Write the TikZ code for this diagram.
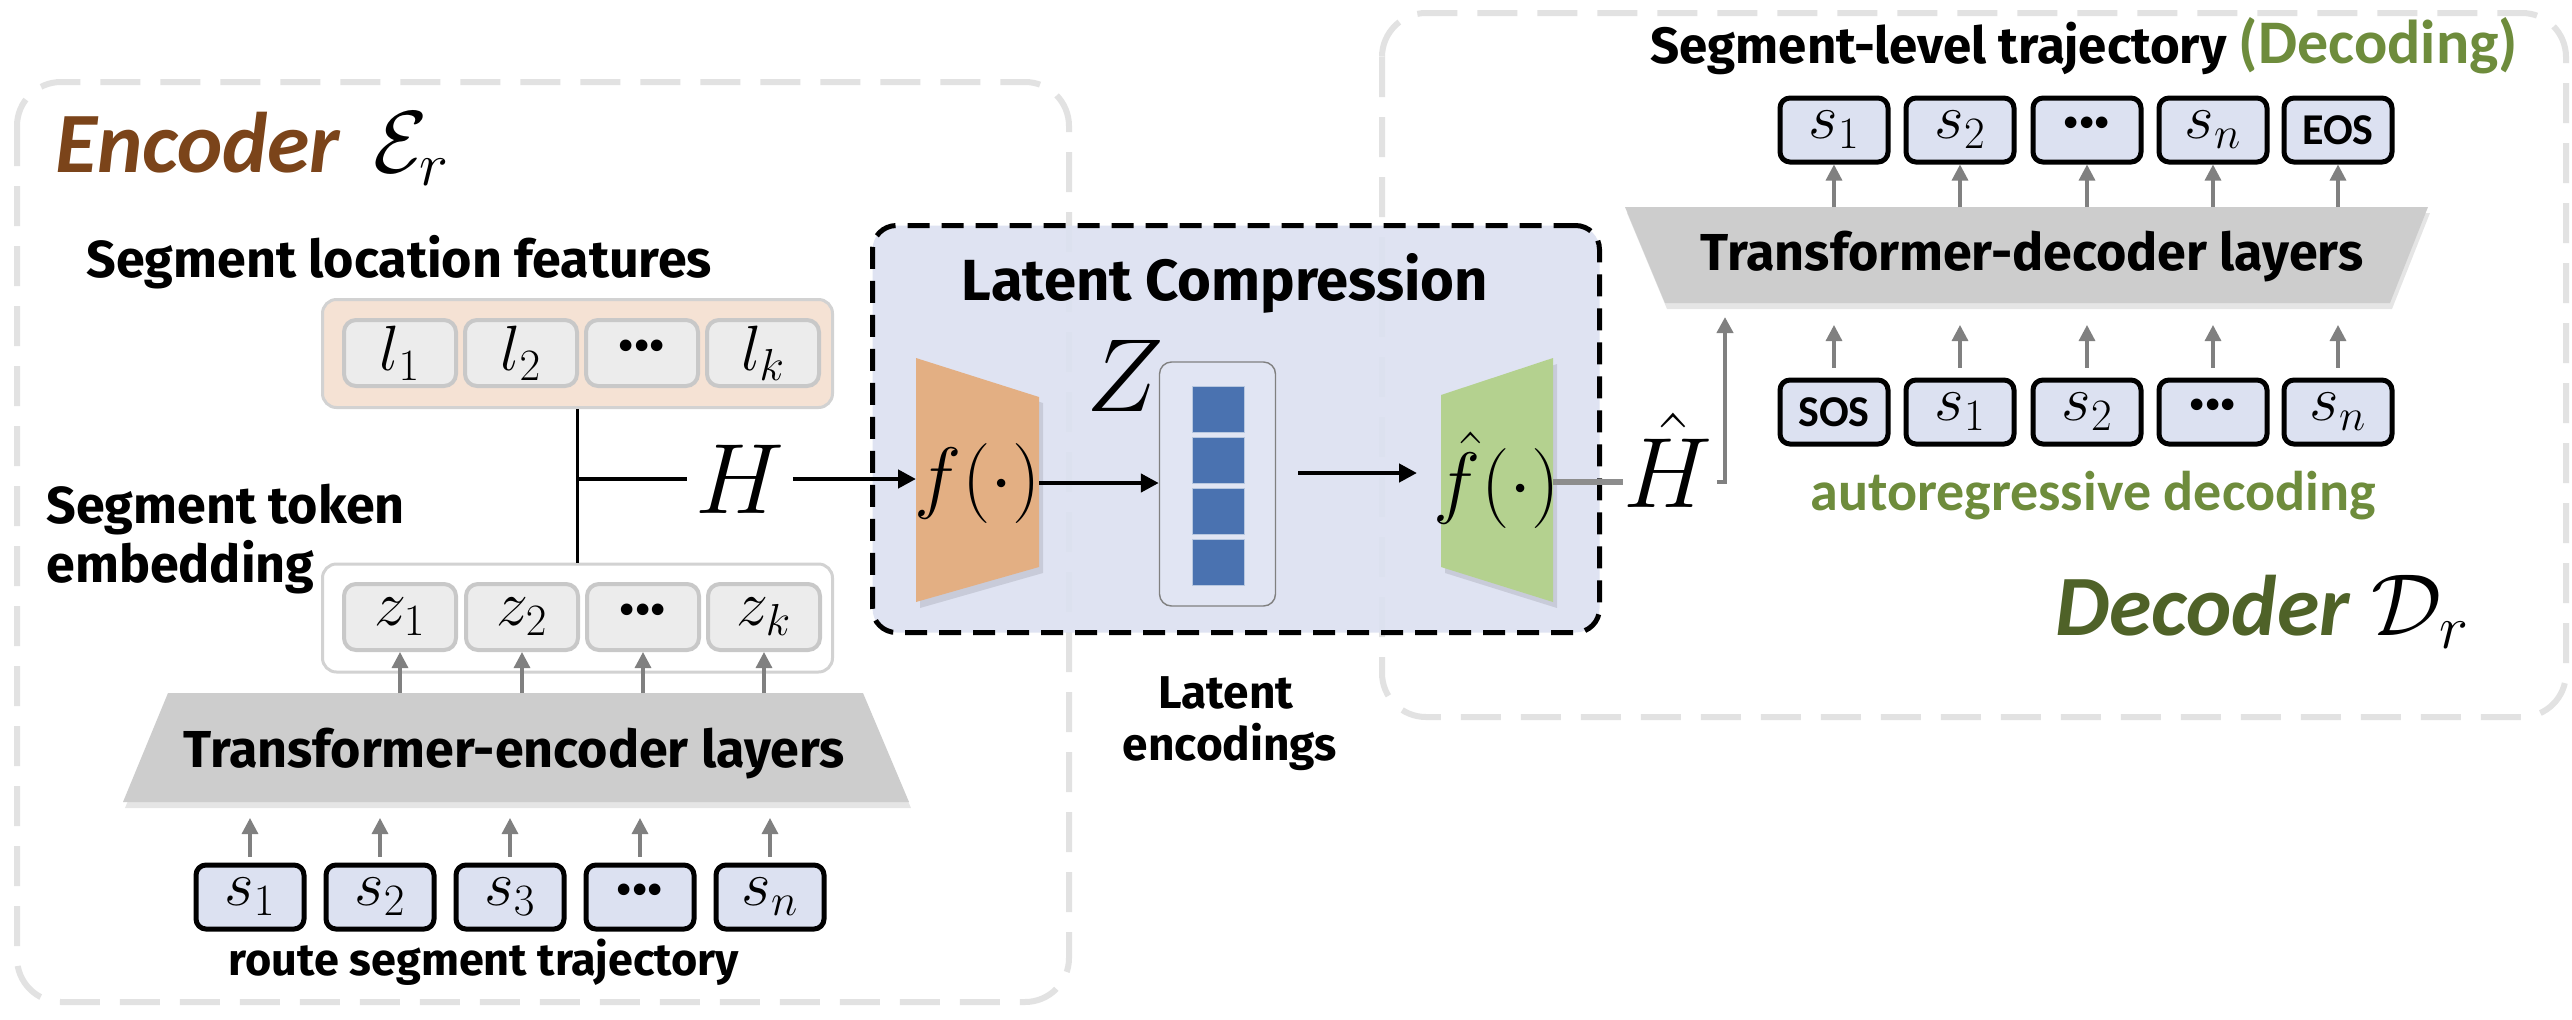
\RequirePackage{fix-cm}
\documentclass[tikz,border=0pt]{standalone}
\usepackage[no-math]{fontspec}
\setmainfont{Fira Sans}
\newfontfamily\calibfont{Carlito}
\usetikzlibrary{arrows.meta}
\newcommand\fsz[1]{\fontsize{#1pt}{#1pt}\selectfont}
\newcommand\tdots{{\bfseries\raisebox{-0.08em}{···}}}
\definecolor{encbrown}{HTML}{7B441A}
\definecolor{decgreen}{HTML}{4F6228}
\definecolor{litgreen}{HTML}{6E8C3C}
\definecolor{latfill}{HTML}{DCE1F1}
\definecolor{cellblue}{HTML}{DCE1F1}
\definecolor{outergray}{HTML}{E2E2E2}
\definecolor{lfill}{HTML}{F5E2D4}
\definecolor{cellgray}{HTML}{ECECEC}
\definecolor{cellline}{HTML}{C8C8C8}
\definecolor{contline}{HTML}{D2D2D2}
\definecolor{trapgray}{HTML}{CDCDCD}
\definecolor{arrowgray}{HTML}{808080}
\definecolor{orangef}{HTML}{E3AF83}
\definecolor{greenf}{HTML}{B4D18F}
\definecolor{zblue}{HTML}{4A72B0}
\definecolor{zboxfill}{HTML}{E1E5F3}
\begin{document}
\begin{tikzpicture}[x=0.5pt,y=-0.5pt,
  outerbox/.style={draw=outergray, line width=3pt, dash pattern=on 20pt off 10pt, rounded corners=22pt},
  latbox/.style={draw=black, fill=latfill, fill opacity=0.9, line width=2.5pt, dash pattern=on 11pt off 6pt, rounded corners=12pt, inner sep=0pt},
  scell/.style={draw=black, fill=cellblue, line width=2.5pt, rounded corners=5pt, minimum width=54pt, minimum height=32pt, inner sep=0pt, font=\fsz{32}},
  gcell/.style={draw=cellline, fill=cellgray, line width=2pt, rounded corners=6pt, minimum width=56pt, minimum height=33pt, inner sep=0pt, font=\fsz{32}},
  contbox/.style={draw=contline, line width=1.5pt, rounded corners=7pt, minimum width=255pt, minimum height=54pt, inner sep=0pt},
  garrow/.style={draw=arrowgray, line width=1.6pt, -{Triangle[length=8pt,width=8pt]}},
  barrow/.style={draw=black, line width=2.2pt, -{Triangle[length=9pt,width=9pt]}},
  lbl/.style={inner sep=0pt, font=\bfseries\fsz{26}},
  bigmath/.style={inner sep=0pt, font=\fsz{50}},
  tokfont/.style={font=\calibfont\bfseries\fsz{22}}
]
\useasboundingbox (0,0) rectangle (2572,1019);
\fill[white] (0,0) rectangle (2572,1019);

% ---------- outer frames ----------
\draw[outerbox] (17,82) rectangle (1069,1002);
\draw[outerbox] (1382,13) rectangle (2566,717);

% ---------- latent compression box ----------
\node[latbox, minimum width=363.5pt, minimum height=203.5pt] (lat) at (1236,429) {};
\node[lbl, anchor=base, font=\bfseries\fsz{29}] (lctitle) at (1225,300) {Latent Compression};

% ---------- encoder ----------
\node[anchor=base west, inner sep=0pt, text=encbrown, font=\calibfont\bfseries\itshape\fsz{43}] (enclbl) at (55,172) {Encoder};
\node[anchor=base west, inner sep=0pt, font=\fsz{44}] (encsym) at (373,172) {$\mathcal{E}_r$};

\node[lbl, anchor=base west] (slf) at (86,277) {Segment location features};
\node[contbox, fill=lfill] (lbox) at (577.5,353.5) {};
\node[gcell] (l1) at (400,353) {$l_1$};
\node[gcell] (l2) at (521,353) {$l_2$};
\node[gcell] (l3) at (642,353) {\tdots};
\node[gcell] (l4) at (763,353) {$l_k$};

\node[lbl, anchor=base west] (stok) at (46,523) {Segment token};
\node[lbl, anchor=base west] (semb) at (46,582) {embedding};

\node[contbox, fill=white] (zbox) at (577.5,618) {};
\node[gcell] (z1) at (400,617) {$z_1$};
\node[gcell] (z2) at (522,617) {$z_2$};
\node[gcell] (z3) at (643,617) {\tdots};
\node[gcell] (z4) at (764,617) {$z_k$};

% H junction
\node[bigmath, inner xsep=4pt] (Hlab) at (740,479) {$H$};
\coordinate (J) at (lbox.south |- Hlab);
\coordinate (fin) at (916,479);
\draw[black, line width=1.6pt] (lbox.south) -- (zbox.north);
\draw[black, line width=2.2pt] (J) -- (Hlab.west);
\draw[barrow] (Hlab.east) -- (fin);

% encoder trapezoid
\begin{scope}[shift={(2,6)}]
\fill[black, opacity=0.1] (168,693) -- (863,693) -- (909,802) -- (123,802) -- cycle;
\end{scope}
\fill[trapgray] (168,693) -- (863,693) -- (909,802) -- (123,802) -- cycle;
\node[lbl, anchor=base] (etxt) at (514,767) {Transformer-encoder layers};
\coordinate (etop) at (0,693);
\coordinate (ebot) at (0,818);
\foreach \c in {z1,z2,z3,z4} \draw[garrow] (\c.south |- etop) -- (\c.south);

% input segments
\node[scell] (s1) at (250,897) {$s_1$};
\node[scell] (s2) at (380,897) {$s_2$};
\node[scell] (s3) at (510,897) {$s_3$};
\node[scell] (s4) at (640,897) {\tdots};
\node[scell] (s5) at (770,897) {$s_n$};
\foreach \c in {s1,s2,s3,s4,s5} \draw[garrow, shorten <=3pt] (\c.north) -- (\c.north |- ebot);
\node[lbl, anchor=base, font=\bfseries\fsz{22.5}] (rst) at (484,975) {route segment trajectory};

% ---------- latent content ----------
\begin{scope}[shift={(4,6)}]
\fill[black, opacity=0.1] (916,358) -- (1039,397) -- (1039,567) -- (916,602) -- cycle;
\fill[black, opacity=0.1] (1441,395) -- (1553,358) -- (1553,602) -- (1441,567) -- cycle;
\end{scope}
\fill[orangef] (916,358) -- (1039,397) -- (1039,567) -- (916,602) -- cycle;
\fill[greenf] (1441,395) -- (1553,358) -- (1553,602) -- (1441,567) -- cycle;
\node[inner sep=0pt, font=\fsz{40}] (fenc) at (978,483) {$f(\cdot)$};
\node[inner sep=0pt, font=\fsz{40}] (fdec) at (1497,480) {$\hat{f}(\cdot)$};
\coordinate (fout) at (1039,483);

\node[draw=arrowgray, fill=zboxfill, line width=0.7pt, rounded corners=6pt, minimum width=58pt, minimum height=122pt, inner sep=0pt] (zlat) at (1217.5,484) {};
\node[draw=zblue!40, line width=0.5pt, fill=zblue, minimum width=26pt, minimum height=23pt, inner sep=0pt] (q1) at (1218,409.5) {};
\node[draw=zblue!40, line width=0.5pt, fill=zblue, minimum width=26pt, minimum height=23pt, inner sep=0pt] (q2) at (1218,460) {};
\node[draw=zblue!40, line width=0.5pt, fill=zblue, minimum width=26pt, minimum height=23pt, inner sep=0pt] (q3) at (1218,511) {};
\node[draw=zblue!40, line width=0.5pt, fill=zblue, minimum width=26pt, minimum height=23pt, inner sep=0pt] (q4) at (1218,562.5) {};
\node[bigmath, font=\fsz{52}] (Zlab) at (1125,376) {$Z$};

\draw[barrow] (fout) -- (zlat.west |- fout);
\coordinate (za) at (1298,473);
\coordinate (zb) at (1417,473);
\draw[barrow] (za) -- (zb);

\coordinate (gout) at (1553,482);
\node[bigmath] (Hhat) at (1668,460) {$\hat{H}$};
\coordinate (dtin) at (1725,317);
\draw[draw=arrowgray!90, line width=2.6pt] (gout) -- (Hhat.west |- gout);
\draw[garrow, line width=2.2pt] ([xshift=2pt]Hhat.east |- gout) -| (dtin);

\node[lbl, anchor=base, font=\bfseries\fsz{23}] (lenc1) at (1226,708) {Latent};
\node[lbl, anchor=base, font=\bfseries\fsz{23}] (lenc2) at (1230,760) {encodings};

% ---------- decoder ----------
\node[anchor=base west, inner sep=0pt, font=\bfseries\fsz{25.5}] (dtitle) at (1650,63) {Segment-level trajectory {\calibfont\fsz{31}\color{litgreen}(Decoding)}};

\node[scell] (o1) at (1834,130) {$s_1$};
\node[scell] (o2) at (1960,130) {$s_2$};
\node[scell] (o3) at (2087,130) {\tdots};
\node[scell] (o4) at (2213,130) {$s_n$};
\node[scell, tokfont] (o5) at (2338,130) {EOS};

\begin{scope}[shift={(2,6)}]
\fill[black, opacity=0.1] (1625,207) -- (2428,207) -- (2390,303) -- (1665,303) -- cycle;
\end{scope}
\fill[trapgray] (1625,207) -- (2428,207) -- (2390,303) -- (1665,303) -- cycle;
\node[lbl, anchor=base] (dtxt) at (2032,270) {Transformer-decoder layers};
\coordinate (dtop) at (0,207);
\coordinate (dbot) at (0,325);
\foreach \c in {o1,o2,o3,o4,o5} \draw[garrow] (\c.south |- dtop) -- (\c.south);

\node[scell, tokfont] (i1) at (1834,412) {SOS};
\node[scell] (i2) at (1960,412) {$s_1$};
\node[scell] (i3) at (2087,412) {$s_2$};
\node[scell] (i4) at (2213,412) {\tdots};
\node[scell] (i5) at (2338,412) {$s_n$};
\foreach \c in {i1,i2,i3,i4,i5} \draw[garrow, shorten <=5pt] (\c.north) -- (\c.north |- dbot);

\node[anchor=base west, inner sep=0pt, text=litgreen, font=\calibfont\bfseries\fsz{28}] (ard) at (1810,510) {autoregressive decoding};
\node[anchor=base west, inner sep=0pt, text=decgreen, font=\calibfont\bfseries\itshape\fsz{43}] (declbl) at (2055,635) {Decoder};
\node[anchor=base west, inner sep=0pt, font=\fsz{44}] (decsym) at (2371,635) {$\mathcal{D}_r$};
\end{tikzpicture}
\end{document}
